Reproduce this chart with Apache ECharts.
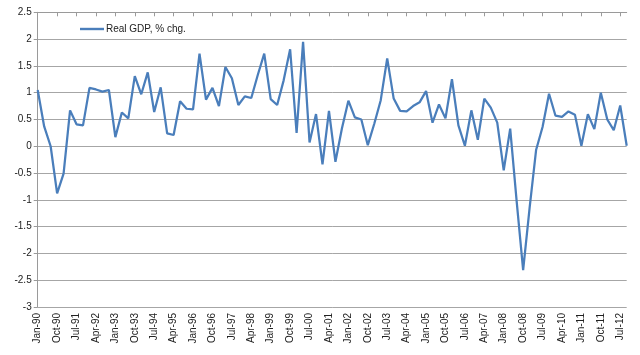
<!DOCTYPE html>
<html>
<head>
<meta charset="utf-8">
<script src="https://cdn.jsdelivr.net/npm/echarts@6/dist/echarts.min.js"></script>
<style>
html,body{margin:0;padding:0;background:#fff;}
#c{width:640px;height:355px;}
</style>
</head>
<body>
<div id="c"></div>
<script>
// Quarter labels Jan-90 .. Oct-12
var months = ["Jan", "Apr", "Jul", "Oct"];
var years = ["90","91","92","93","94","95","96","97","98","99","00","01","02","03","04","05","06","07","08","09","10","11","12"];
var categories = [];
years.forEach(function (y) { months.forEach(function (m) { categories.push(m + "-" + y); }); });

var seriesName = "Real GDP, % chg.";
var gdpValues = [
  1.05, 0.37, 0.00, -0.88, -0.51, 0.67, 0.41, 0.39, 1.09, 1.06,
  1.02, 1.05, 0.17, 0.63, 0.52, 1.31, 0.97, 1.38, 0.64, 1.10,
  0.24, 0.21, 0.84, 0.70, 0.69, 1.73, 0.87, 1.09, 0.75, 1.48,
  1.27, 0.77, 0.93, 0.90, 1.33, 1.73, 0.88, 0.77, 1.23, 1.81,
  0.25, 1.95, 0.07, 0.60, -0.34, 0.66, -0.29, 0.33, 0.85, 0.54,
  0.50, 0.02, 0.42, 0.86, 1.64, 0.89, 0.66, 0.65, 0.75, 0.82,
  1.03, 0.44, 0.78, 0.52, 1.25, 0.39, 0.01, 0.67, 0.12, 0.89,
  0.72, 0.44, -0.45, 0.33, -1.03, -2.31, -1.15, -0.07, 0.36, 0.98,
  0.57, 0.55, 0.65, 0.59, 0.01, 0.60, 0.32, 1.00, 0.50, 0.30,
  0.76, 0.01
];
var yMin = -3, yMax = 2.5, yStep = 0.5;

var chart = echarts.init(document.getElementById('c'), null, {renderer: 'canvas'});
var font = "Liberation Sans, Arial, sans-serif";
chart.setOption({
  animation: false,
  backgroundColor: '#ffffff',
  grid: {left: 37.7, right: 13.3, top: 12.3, bottom: 48, containLabel: false},
  legend: {
    show: true,
    left: 75, top: 19,
    icon: 'path://M0,0H24V2.4H0Z',
    itemWidth: 24, itemHeight: 2.4, itemGap: 4,
    textStyle: {fontFamily: font, fontSize: 10, color: '#222', padding: [0,0,0,-3]},
    data: [seriesName]
  },
  xAxis: [{
    type: 'category',
    data: categories,
    boundaryGap: false,
    position: 'bottom',
    axisLine: {show: false},
    axisTick: {show: false},
    splitLine: {show: false},
    axisLabel: {interval: 2, rotate: 90, margin: 6, fontFamily: font, fontSize: 10, color: '#222'}
  }, {
    type: 'category',
    data: categories,
    boundaryGap: false,
    position: 'top',
    axisLine: {show: true, onZero: true, lineStyle: {color: '#9a9a9a', width: 1}},
    axisTick: {show: true, inside: true, interval: 2, length: 4, lineStyle: {color: '#9a9a9a'}},
    axisLabel: {show: false},
    splitLine: {show: false}
  }],
  yAxis: {
    type: 'value',
    min: yMin, max: yMax, interval: yStep,
    axisLine: {show: true, lineStyle: {color: '#9a9a9a'}},
    axisTick: {show: true, length: 4, lineStyle: {color: '#9a9a9a'}},
    splitLine: {show: true, lineStyle: {color: '#a6a6a6', width: 1}},
    axisLabel: {fontFamily: font, fontSize: 10, color: '#222', margin: 6}
  },
  series: [{
    name: seriesName,
    type: 'line',
    xAxisIndex: 0,
    data: gdpValues,
    symbol: 'none',
    lineStyle: {color: '#4a7ebb', width: 2.25},
    itemStyle: {color: '#4a7ebb'}
  }]
});
</script>
</body>
</html>
